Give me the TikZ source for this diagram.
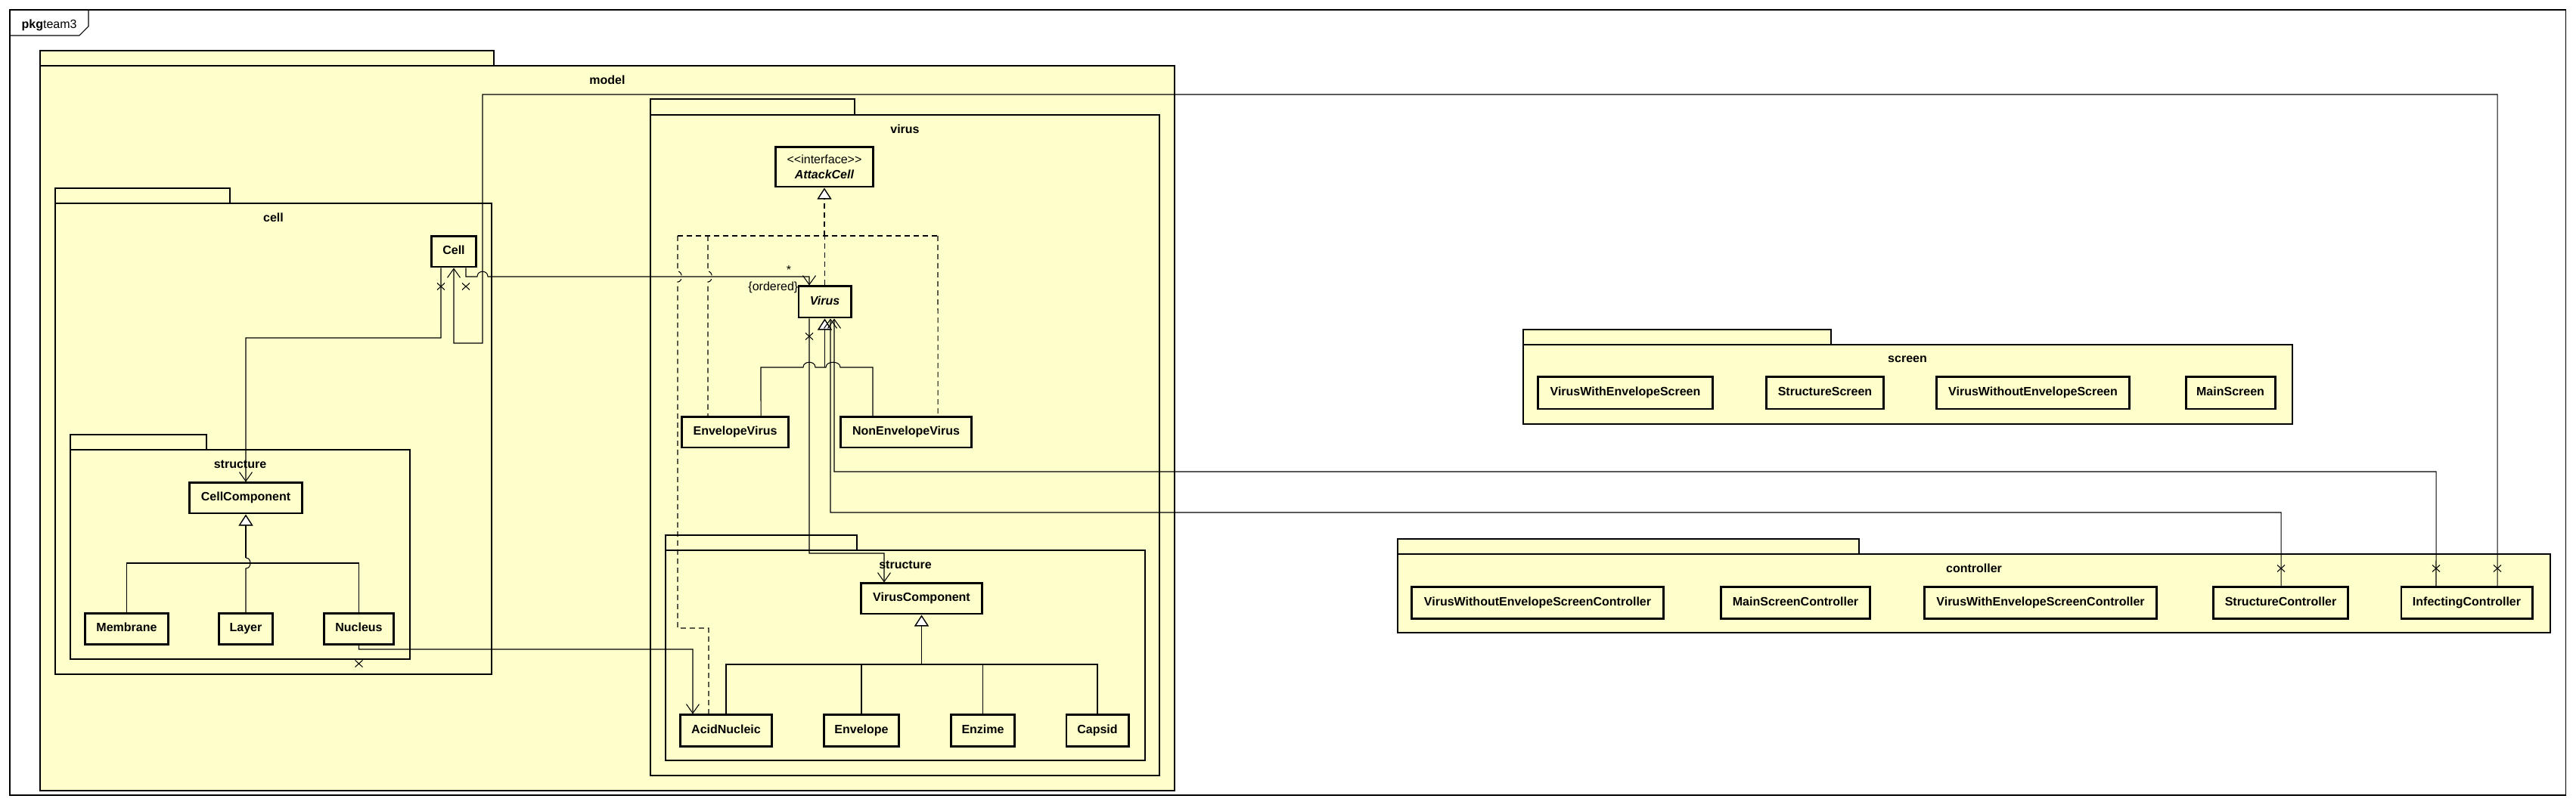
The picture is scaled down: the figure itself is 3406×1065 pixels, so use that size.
\documentclass[tikz,border=0pt]{standalone}
\usepackage{fontspec}
\setmainfont{Liberation Sans}
\usetikzlibrary{arrows.meta}
\definecolor{umlfill}{HTML}{FFFFCC}
\begin{document}
\begin{tikzpicture}[x=0.01cm,y=-0.01cm,
  font=\fontsize{4.55}{5.7}\selectfont,
  outerframe/.style={draw=black, line width=0.3pt},
  pkgbox/.style={draw=black, fill=umlfill, line width=0.75pt},
  pkglabel/.style={inner sep=0pt, font=\fontsize{4.55}{5.7}\selectfont\bfseries},
  cls/.style={draw=black, fill=umlfill, line width=0.85pt, inner sep=0pt,
    font=\fontsize{4.55}{5.7}\selectfont\bfseries, text height=0.115cm, text depth=0.035cm},
  conn/.style={draw=black, line width=0.3pt},
  nav/.style={conn, -{Straight Barb[length=0.12cm,width=0.17cm]}},
  gen/.style={draw=black, line width=0.55pt, -{Triangle[length=0.15cm,width=0.19cm,fill=white,line width=0.4pt]}},
  real/.style={conn, dash pattern=on 0.07cm off 0.05cm},
  realtip/.style={real, -{Triangle[length=0.15cm,width=0.19cm,fill=white,line width=0.4pt]}},
  lbl/.style={inner sep=0pt, font=\fontsize{4.55}{5.7}\selectfont},
  xcross/.pic={\draw[conn] (-5,-4.5) -- (5,4.5) (-5,4.5) -- (5,-4.5);}
]
\useasboundingbox (0,0) rectangle (3406,1065);

% ---------- outer frame ----------
\draw[outerframe] (13,13) rectangle (3392,1052);
\draw[outerframe] (13,47) -- (105,47) -- (117,35) -- (117,13);
\node[lbl, anchor=base west] (frameLbl) at (28,38) {\textbf{pkg}team3};

% ---------- packages ----------
% model
\draw[pkgbox] (53,67) rectangle (653,87);
\draw[pkgbox] (53,87) rectangle (1553,1046);
\node[pkglabel] (lblModel) at (803,106) {model};
% cell
\draw[pkgbox] (73,249) rectangle (304,269);
\draw[pkgbox] (73,269) rectangle (650,892);
\node[pkglabel] (lblCell) at (361.5,288) {cell};
% cell structure
\draw[pkgbox] (93,575) rectangle (273,595);
\draw[pkgbox] (93,595) rectangle (542,872);
\node[pkglabel] (lblCellStruct) at (317.5,614) {structure};
% virus
\draw[pkgbox] (860,131) rectangle (1130,152);
\draw[pkgbox] (860,152) rectangle (1533,1026);
\node[pkglabel] (lblVirus) at (1196.5,171) {virus};
% virus structure
\draw[pkgbox] (880,708) rectangle (1133,728);
\draw[pkgbox] (880,728) rectangle (1514,1006);
\node[pkglabel] (lblVirusStruct) at (1197,747) {structure};
% screen
\draw[pkgbox] (2014,436) rectangle (2421,456);
\draw[pkgbox] (2014,456) rectangle (3031,561);
\node[pkglabel] (lblScreen) at (2522,475) {screen};
% controller
\draw[pkgbox] (1848,713) rectangle (2458,733);
\draw[pkgbox] (1848,733) rectangle (3372,837);
\node[pkglabel] (lblController) at (2610,752) {controller};

% ---------- classes ----------
\node[cls, minimum width=0.58cm, minimum height=0.40cm] (Cell) at (600,333) {Cell};
\node[cls, minimum width=1.48cm, minimum height=0.40cm] (CellComponent) at (325,659) {CellComponent};
\node[cls, minimum width=1.09cm, minimum height=0.40cm] (Membrane) at (167.5,832) {Membrane};
\node[cls, minimum width=0.71cm, minimum height=0.40cm] (Layer) at (325,832) {Layer};
\node[cls, minimum width=0.91cm, minimum height=0.40cm] (Nucleus) at (474.5,832) {Nucleus};

\node[draw=black, fill=umlfill, line width=0.85pt, inner sep=0pt, align=center,
  minimum width=1.28cm, minimum height=0.52cm] (AttackCell) at (1090,221)
  {<\kern0pt<interface>\kern0pt>\\\textbf{\textit{AttackCell}}};
\node[cls, minimum width=0.69cm, minimum height=0.41cm] (Virus) at (1090.5,399.5) {\textit{Virus}};
\node[cls, minimum width=1.40cm, minimum height=0.40cm] (EnvelopeVirus) at (972,572) {EnvelopeVirus};
\node[cls, minimum width=1.72cm, minimum height=0.40cm] (NonEnvelopeVirus) at (1198,572) {NonEnvelopeVirus};
\node[cls, minimum width=1.59cm, minimum height=0.40cm] (VirusComponent) at (1218.5,792) {VirusComponent};
\node[cls, minimum width=1.20cm, minimum height=0.41cm] (AcidNucleic) at (960,966.5) {AcidNucleic};
\node[cls, minimum width=0.98cm, minimum height=0.41cm] (Envelope) at (1139,966.5) {Envelope};
\node[cls, minimum width=0.83cm, minimum height=0.41cm] (Enzime) at (1299.5,966.5) {Enzime};
\node[cls, minimum width=0.82cm, minimum height=0.41cm] (Capsid) at (1451,966.5) {Capsid};

\node[cls, minimum width=2.30cm, minimum height=0.42cm] (VWES) at (2149,520) {VirusWithEnvelopeScreen};
\node[cls, minimum width=1.54cm, minimum height=0.42cm] (SS) at (2413,520) {StructureScreen};
\node[cls, minimum width=2.54cm, minimum height=0.42cm] (VWoES) at (2688,520) {VirusWithoutEnvelopeScreen};
\node[cls, minimum width=1.18cm, minimum height=0.42cm] (MS) at (2949,520) {MainScreen};

\node[cls, minimum width=3.32cm, minimum height=0.41cm] (VWoESC) at (2033,797.5) {VirusWithoutEnvelopeScreenController};
\node[cls, minimum width=1.96cm, minimum height=0.41cm] (MSC) at (2374,797.5) {MainScreenController};
\node[cls, minimum width=3.06cm, minimum height=0.41cm] (VWESC) at (2698,797.5) {VirusWithEnvelopeScreenController};
\node[cls, minimum width=1.77cm, minimum height=0.41cm] (StructureController) at (3015.5,797.5) {StructureController};
\node[cls, minimum width=1.73cm, minimum height=0.41cm] (InfectingController) at (3261.5,797.5) {InfectingController};

% ---------- connectors ----------
% InfectingController -> Cell
\draw[nav] ([xshift=0.405cm]InfectingController.north) -- (3302,125) -- (638,125) -- (638,454) -- (600,454) -- (Cell.south);
\pic at (3302,752) {xcross};

% Cell -> Virus  (* {ordered})
\draw[nav] ([xshift=0.16cm]Cell.south) -- (616,366) -- (631,366) .. controls (631,357) and (645,357) .. (645,366)
  -- (1070,366) -- ([xshift=-0.205cm]Virus.north);
\pic at (616,379) {xcross};
\node[lbl, anchor=base] (mult) at (1043,363) {*};
\node[lbl, anchor=base east] (ordered) at (1056,385) {\{ordered\}};

% Cell -> CellComponent
\draw[nav] ([xshift=-0.17cm]Cell.south) -- (583,447) -- (325,447) -- (CellComponent.north);
\pic at (583,379) {xcross};

% CellComponent generalization
\draw[gen] (325,738) -- (CellComponent.south);
\draw[conn] (Membrane.north) -- (167.5,745) -- (474.5,745) -- (Nucleus.north);
\draw[conn] (Layer.north) -- (325,752) .. controls (333,752) and (333,738) .. (325,738);

% Nucleus -> AcidNucleic
\draw[nav] (Nucleus.south) -- (474.5,859) -- (916,859) -- ([xshift=-0.44cm]AcidNucleic.north);
\pic at (474.5,878) {xcross};

% Realization of AttackCell
\draw[realtip] (1090,312) -- (AttackCell.south);
\draw[real] (Virus.north) -- (1090.5,312);
\draw[real] (896,312) -- (1240,312);
\draw[real] (896,312) -- (896,359) .. controls (903,359) and (903,373) .. (896,373) -- (896,831) -- (937,831)
  -- ([xshift=-0.23cm]AcidNucleic.north);
\draw[real] (936,312) -- (936,359) .. controls (943,359) and (943,373) .. (936,373)
  -- ([xshift=-0.36cm]EnvelopeVirus.north);
\draw[real] (1240,312) -- ([xshift=0.42cm]NonEnvelopeVirus.north);

% Virus generalization
\draw[gen] (1090.5,486) -- (Virus.south);
\draw[conn] ([xshift=0.34cm]EnvelopeVirus.north) -- (1006,486) -- (1062,486)
  .. controls (1062,477) and (1078,477) .. (1078,486) -- (1092,486)
  .. controls (1092,477) and (1111,477) .. (1111,486) -- (1154,486) -- ([xshift=-0.44cm]NonEnvelopeVirus.north);

% Virus -> VirusComponent
\draw[nav] ([xshift=-0.205cm]Virus.south) -- (1070,732) -- (1169,732) -- ([xshift=-0.495cm]VirusComponent.north);
\pic at (1070,445) {xcross};

% StructureController -> Virus
\draw[nav] ([xshift=0.005cm]StructureController.north) -- (3016,678) -- (1098,678) -- ([xshift=0.075cm]Virus.south);
\pic at (3016,752) {xcross};

% InfectingController -> Virus
\draw[nav] ([xshift=-0.405cm]InfectingController.north) -- (3221,624) -- (1103,624) -- ([xshift=0.125cm]Virus.south);
\pic at (3221,752) {xcross};

% VirusComponent generalization
\draw[gen] (1218.5,879) -- (VirusComponent.south);
\draw[conn] (AcidNucleic.north) -- (960,879) -- (1451,879) -- (Capsid.north);
\draw[conn] (Envelope.north) -- (1139,879);
\draw[conn] (Enzime.north) -- (1299.5,879);
\end{tikzpicture}
\end{document}
